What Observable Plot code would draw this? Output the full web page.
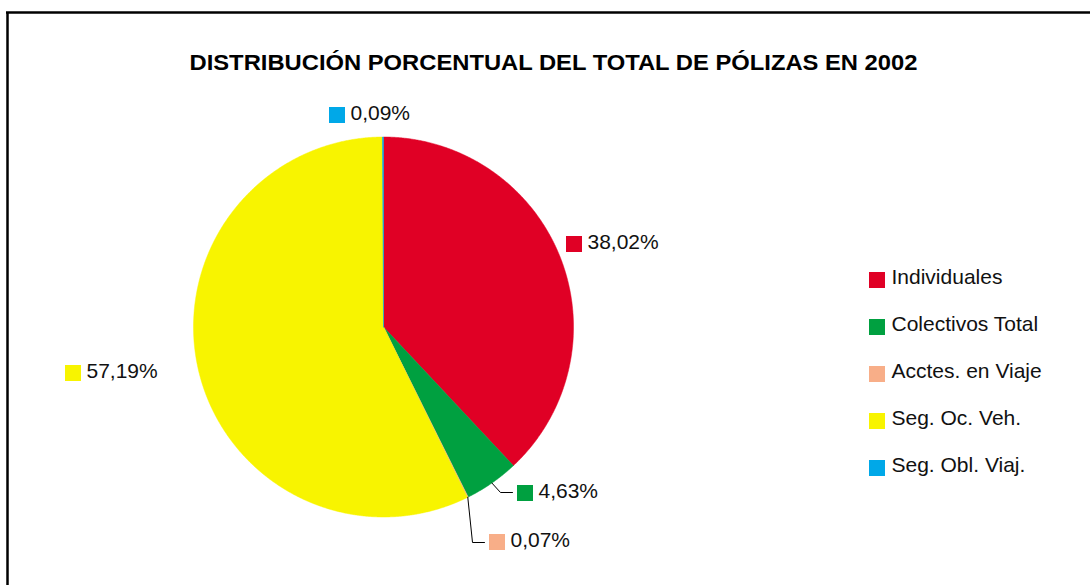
<!DOCTYPE html>
<html>
<head>
<meta charset="utf-8">
<script src="https://cdn.jsdelivr.net/npm/d3@7"></script>
<script src="https://cdn.jsdelivr.net/npm/@observablehq/plot@0.6"></script>
<style>
  html, body { margin: 0; padding: 0; background: #fff; overflow: hidden; }
  #chart svg { display: block; }
</style>
</head>
<body>
<div id="chart"></div>
<script>
// ---- Data ----
const title = "DISTRIBUCIÓN PORCENTUAL DEL TOTAL DE PÓLIZAS EN 2002";
const categories = ["Individuales", "Colectivos Total", "Acctes. en Viaje", "Seg. Oc. Veh.", "Seg. Obl. Viaj."];
const values = [38.02, 4.63, 0.07, 57.19, 0.09];
const valueLabels = ["38,02%", "4,63%", "0,07%", "57,19%", "0,09%"];
const colors = ["#E00025", "#00A040", "#F8AE88", "#F8F400", "#00A8E8"];

// ---- Layout (pixel coordinates, identity scales) ----
const W = 1090, H = 585;
const cx = 383, cy = 326.5, R = 190;
// top-left of the small square next to each slice label
const labelSquares = [[566, 236], [517, 485], [489, 534], [65, 365], [329, 107]];
// leader line elbow / end for the small slices (null = no leader)
const leaders = [null, [[500, 492], [512, 492]], [[472, 542], [484, 542]], null, null];
const legendX = 869, legendTop = 272, legendStep = 47, sq = 16;

const rows = categories.map((c, i) => ({cat: c, value: values[i], label: valueLabels[i], i}));
const arcs = d3.pie().sort(null).value(d => d.value)(rows);

const polar = (a, r) => [cx + r * Math.sin(a), cy - r * Math.cos(a)];

// slice polygons
const slicePts = [];
for (const a of arcs) {
  const n = Math.max(2, Math.ceil((a.endAngle - a.startAngle) / 0.005));
  slicePts.push({cat: a.data.cat, x: cx, y: cy});
  for (let k = 0; k <= n; k++) {
    const t = a.startAngle + (a.endAngle - a.startAngle) * k / n;
    const [x, y] = polar(t, R);
    slicePts.push({cat: a.data.cat, x, y});
  }
  slicePts.push({cat: a.data.cat, x: cx, y: cy});
}

// leader lines
const leaderPts = [];
arcs.forEach((a, i) => {
  if (!leaders[i]) return;
  const mid = (a.startAngle + a.endAngle) / 2;
  const [x0, y0] = polar(mid, R);
  leaderPts.push({id: i, x: x0, y: y0});
  for (const [x, y] of leaders[i]) leaderPts.push({id: i, x, y});
});

const labelData = rows.map((d, i) => ({...d, sx: labelSquares[i][0], sy: labelSquares[i][1]}));
const legendData = rows.map((d, i) => ({...d, sx: legendX, sy: legendTop + i * legendStep}));

const font = "'Liberation Sans', Arial, sans-serif";

const plot = Plot.plot({
  width: W, height: H,
  margin: 0,
  x: {domain: [0, W], range: [0, W], axis: null},
  y: {domain: [0, H], range: [0, H], axis: null},
  color: {domain: categories, range: colors},
  style: {fontFamily: font, background: "#fff", overflow: "hidden"},
  marks: [
    // frame
    Plot.ruleX([7], {y1: 12, y2: H, stroke: "#000", strokeWidth: 2.5}),
    Plot.ruleY([12], {x1: 6, x2: W, stroke: "#000", strokeWidth: 2.5}),
    // title
    Plot.text([title], {x: 553, y: 69, text: d => d, fontSize: 22, fontWeight: "bold", fill: "#000", textAnchor: "middle", lineAnchor: "bottom", className: "title"}),
    // pie
    Plot.line(slicePts, {x: "x", y: "y", z: "cat", fill: "cat", stroke: "cat", strokeWidth: 0.5, curve: "linear"}),
    // leaders
    Plot.line(leaderPts, {x: "x", y: "y", z: "id", stroke: "#000", strokeWidth: 1}),
    // slice labels
    Plot.rect(labelData, {x1: "sx", x2: d => d.sx + sq, y1: "sy", y2: d => d.sy + sq, fill: "cat"}),
    Plot.text(labelData, {x: d => d.sx + 21, y: d => d.sy + 12, text: "label", fontSize: 21, fill: "#111", textAnchor: "start", lineAnchor: "bottom"}),
    // legend
    Plot.rect(legendData, {x1: "sx", x2: d => d.sx + sq, y1: "sy", y2: d => d.sy + sq, fill: "cat"}),
    Plot.text(legendData, {x: d => d.sx + 22, y: d => d.sy + 11, text: "cat", fontSize: 21, fill: "#111", textAnchor: "start", lineAnchor: "bottom"})
  ]
});

document.getElementById("chart").appendChild(plot);
// match the title's width in the reference
d3.select(plot).selectAll("g.title text, .title text").each(function() {
  this.setAttribute("textLength", 728);
  this.setAttribute("lengthAdjust", "spacingAndGlyphs");
});
</script>
</body>
</html>
